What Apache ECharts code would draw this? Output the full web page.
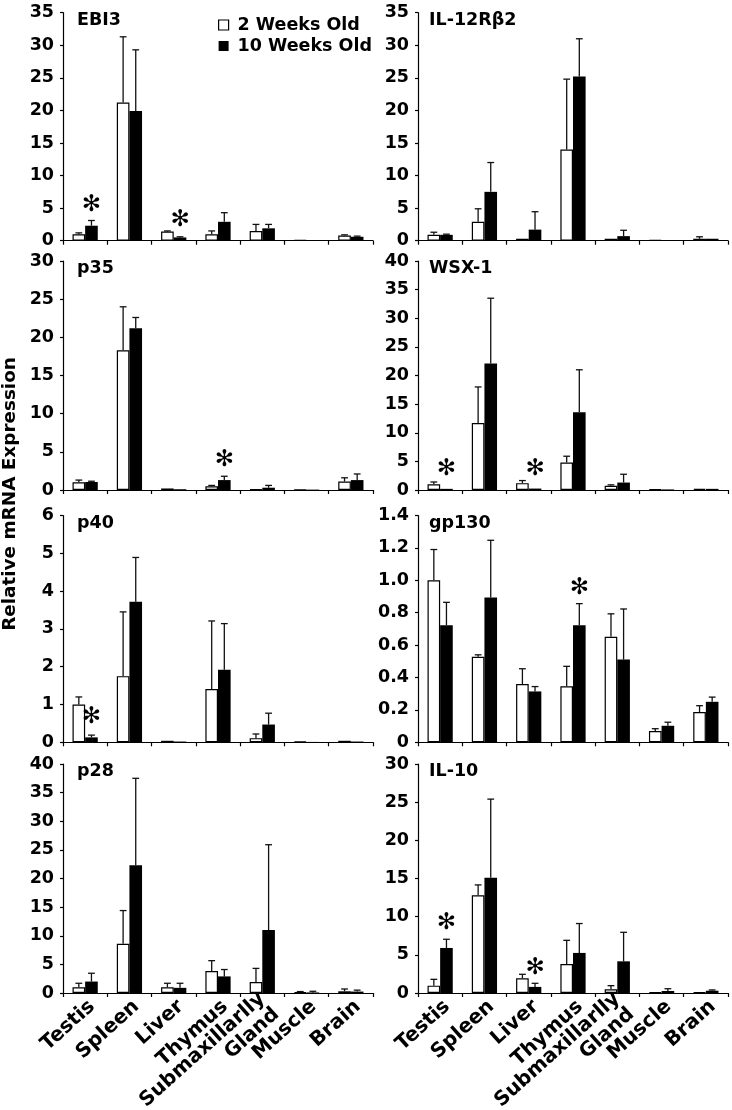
<!DOCTYPE html>
<html><head><meta charset="utf-8">
<script src="https://cdn.jsdelivr.net/npm/echarts@6/dist/echarts.min.js"></script>
<style>html,body{margin:0;padding:0;background:#fff}#c{width:732px;height:1110px}</style>
</head><body><div id="c"></div>
<script>
// ---------- data ----------
var categories = ['Testis', 'Spleen', 'Liver', 'Thymus', 'Submaxillarlly\nGland', 'Muscle', 'Brain'];
var panelTitles = ['EBI3', 'IL-12R\u03b22', 'p35', 'WSX-1', 'p40', 'gp130', 'p28', 'IL-10'];
var yMax  = [35, 35, 30, 40, 6, 1.4, 40, 30];
var yStep = [5, 5, 5, 5, 1, 0.2, 5, 5];
var legendNames = ['2 Weeks Old', '10 Weeks Old'];

var ebi3_2wk      = [1.0, 21.2, 1.4, 1.0, 1.5, 0.1, 0.8];
var ebi3_2wk_err  = [0.2, 10.1, 0.1, 0.5, 1.0, 0, 0.1];
var ebi3_10wk     = [2.3, 19.9, 0.5, 2.9, 1.9, 0.1, 0.6];
var ebi3_10wk_err = [0.8, 9.4, 0.1, 1.4, 0.6, 0, 0.1];

var il12_2wk      = [0.9, 2.9, 0.3, 14.0, 0.3, 0.1, 0.3];
var il12_2wk_err  = [0.4, 2.0, 0, 10.8, 0, 0, 0.3];
var il12_10wk     = [0.9, 7.5, 1.7, 25.2, 0.7, 0.1, 0.3];
var il12_10wk_err = [0.1, 4.5, 2.75, 5.8, 0.9, 0, 0];

var p35_2wk       = [1.0, 18.3, 0.2, 0.5, 0.1, 0.05, 1.1];
var p35_2wk_err   = [0.3, 5.7, 0, 0.1, 0, 0, 0.5];
var p35_10wk      = [1.05, 21.2, 0.1, 1.3, 0.3, 0.05, 1.3];
var p35_10wk_err  = [0.1, 1.4, 0, 0.5, 0.3, 0, 0.8];

var wsx_2wk       = [1.0, 11.7, 1.2, 4.8, 0.75, 0.1, 0.2];
var wsx_2wk_err   = [0.4, 6.3, 0.45, 1.1, 0.15, 0, 0];
var wsx_10wk      = [0.2, 22.1, 0.25, 13.6, 1.3, 0.1, 0.2];
var wsx_10wk_err  = [0, 11.4, 0, 7.4, 1.45, 0, 0];

var p40_2wk       = [1.0, 1.75, 0.04, 1.41, 0.11, 0.02, 0.04];
var p40_2wk_err   = [0.2, 1.7, 0, 1.8, 0.11, 0, 0];
var p40_10wk      = [0.13, 3.72, 0.02, 1.92, 0.47, 0.01, 0.02];
var p40_10wk_err  = [0.06, 1.17, 0, 1.22, 0.3, 0, 0];

var gp130_2wk       = [1.0, 0.528, 0.36, 0.346, 0.652, 0.069, 0.187];
var gp130_2wk_err   = [0.19, 0.012, 0.094, 0.123, 0.141, 0.015, 0.039];
var gp130_10wk      = [0.723, 0.894, 0.314, 0.723, 0.511, 0.102, 0.25];
var gp130_10wk_err  = [0.141, 0.353, 0.03, 0.133, 0.312, 0.022, 0.029];

var p28_2wk       = [1.0, 8.6, 1.0, 3.85, 1.9, 0.15, 0.3];
var p28_2wk_err   = [0.7, 5.8, 0.7, 1.8, 2.4, 0.1, 0.4];
var p28_10wk      = [2.0, 22.3, 0.9, 2.9, 11.0, 0.1, 0.25];
var p28_10wk_err  = [1.45, 15.2, 0.8, 1.2, 14.9, 0.2, 0.25];

var il10_2wk      = [0.96, 12.8, 1.92, 3.8, 0.48, 0.09, 0.09];
var il10_2wk_err  = [0.83, 1.36, 0.53, 3.1, 0.48, 0, 0];
var il10_10wk     = [5.9, 15.1, 0.8, 5.25, 4.15, 0.26, 0.3];
var il10_10wk_err = [1.14, 10.3, 0.47, 3.85, 3.8, 0.3, 0.1];

// significance asterisks: [category index, y position in data units] above 10-week bar
var ebi3_sig  = [[0, 5.4], [2, 3.2]];
var il12_sig  = [];
var p35_sig   = [[3, 3.9]];
var wsx_sig   = [[0, 3.7], [2, 3.7]];
var p40_sig   = [[0, 0.68]];
var gp130_sig = [[3, 0.95]];
var p28_sig   = [];
var il10_sig  = [[0, 9.2], [2, 3.3]];

var young    = [ebi3_2wk, il12_2wk, p35_2wk, wsx_2wk, p40_2wk, gp130_2wk, p28_2wk, il10_2wk];
var youngErr = [ebi3_2wk_err, il12_2wk_err, p35_2wk_err, wsx_2wk_err, p40_2wk_err, gp130_2wk_err, p28_2wk_err, il10_2wk_err];
var adult    = [ebi3_10wk, il12_10wk, p35_10wk, wsx_10wk, p40_10wk, gp130_10wk, p28_10wk, il10_10wk];
var adultErr = [ebi3_10wk_err, il12_10wk_err, p35_10wk_err, wsx_10wk_err, p40_10wk_err, gp130_10wk_err, p28_10wk_err, il10_10wk_err];
var sigs     = [ebi3_sig, il12_sig, p35_sig, wsx_sig, p40_sig, gp130_sig, p28_sig, il10_sig];

// ---------- layout ----------
var FONT = 'DejaVu Sans';
var GAP = 0.43;
var gridTop = [12.7, 261, 515.5, 764];
var gridBot = [240.7, 490, 742.3, 993];
var colLeft = [63, 418];
var gridW = 310;

function errRender(sign) {
  return function (params, api) {
    var c = api.value(0), v = api.value(1), e = api.value(2);
    if (!(e > 0)) return null;
    var base = api.coord([c, v]);
    var top = api.coord([c, v + e]);
    var band = api.size([1, 0])[0];
    var bw = band * (1 - GAP) / 2;
    var x = base[0] + sign * bw / 2;
    var cap = 3.4;
    var st = { stroke: '#111', lineWidth: 1.3 };
    return { type: 'group', children: [
      { type: 'line', shape: { x1: x, y1: base[1], x2: x, y2: top[1] }, style: st },
      { type: 'line', shape: { x1: x - cap, y1: top[1], x2: x + cap, y2: top[1] }, style: st }
    ]};
  };
}
function sigRender(params, api) {
  var p = api.coord([api.value(0), api.value(1)]);
  var band = api.size([1, 0])[0];
  var x = p[0] + band * (1 - GAP) / 4;
  return { type: 'text', x: x, y: p[1], style: { text: '\u273B', fontSize: 23, fontFamily: FONT, fill: '#000', align: 'center', verticalAlign: 'middle' } };
}

var grids = [], xAxes = [], yAxes = [], series = [], graphics = [];
for (var i = 0; i < 8; i++) {
  var row = Math.floor(i / 2), col = i % 2;
  grids.push({ left: colLeft[col], top: gridTop[row], width: gridW, height: gridBot[row] - gridTop[row], containLabel: false, outerBoundsMode: 'none' });
  xAxes.push({
    type: 'category', gridIndex: i, data: categories,
    axisLine: { show: true, lineStyle: { color: '#000', width: 1.2 } },
    axisTick: { show: true, length: 4, lineStyle: { color: '#000', width: 1.2 } },
    axisLabel: { show: row === 3, interval: 0, rotate: 42, margin: 3,
      align: 'right', verticalAlign: 'middle', lineHeight: 21,
      formatter: function (v) { return '\n' + v; },
      fontSize: 20, fontWeight: 'bold', fontFamily: FONT, color: '#000' },
    splitLine: { show: false }
  });
  (function (step) {
    yAxes.push({
      type: 'value', gridIndex: i, min: 0, max: yMax[i], interval: step,
      axisLine: { show: true, lineStyle: { color: '#000', width: 1.2 } },
      axisTick: { show: true, length: 3, lineStyle: { color: '#000', width: 1.2 } },
      axisLabel: { margin: 9, fontSize: 17.5, fontWeight: 'bold', fontFamily: FONT, color: '#000',
        formatter: function (v) { return v === 0 ? '0' : (step < 1 ? v.toFixed(1) : String(v)); } },
      splitLine: { show: false }
    });
  })(yStep[i]);
  series.push({ type: 'bar', name: legendNames[0], xAxisIndex: i, yAxisIndex: i, data: young[i],
    barGap: '0%', barCategoryGap: (GAP * 100) + '%',
    itemStyle: { color: '#fff', borderColor: '#000', borderWidth: 1.2 }, z: 2 });
  series.push({ type: 'bar', name: legendNames[1], xAxisIndex: i, yAxisIndex: i, data: adult[i],
    barGap: '0%', barCategoryGap: (GAP * 100) + '%',
    itemStyle: { color: '#000' }, z: 2 });
  series.push({ type: 'custom', xAxisIndex: i, yAxisIndex: i, renderItem: errRender(-1), clip: false, z: 3,
    encode: { x: 0, y: 1 }, silent: true,
    data: young[i].map(function (v, k) { return [k, v, youngErr[i][k]]; }) });
  series.push({ type: 'custom', xAxisIndex: i, yAxisIndex: i, renderItem: errRender(1), clip: false, z: 3,
    encode: { x: 0, y: 1 }, silent: true,
    data: adult[i].map(function (v, k) { return [k, v, adultErr[i][k]]; }) });
  if (sigs[i].length) {
    series.push({ type: 'custom', xAxisIndex: i, yAxisIndex: i, renderItem: sigRender, clip: false, z: 4,
      encode: { x: 0, y: 1 }, silent: true, data: sigs[i] });
  }
  graphics.push({ type: 'text', x: colLeft[col] + (col ? 11 : 14), y: gridTop[row] + 7.5,
    style: { text: panelTitles[i], fontSize: 17.5, fontWeight: 'bold', fontFamily: FONT, fill: '#000', verticalAlign: 'middle' } });
}
graphics.push({ type: 'text', x: 10, y: 494, rotation: Math.PI / 2,
  style: { text: 'Relative mRNA Expression', fontSize: 18.4, fontWeight: 'bold', fontFamily: FONT, fill: '#000', align: 'center', verticalAlign: 'middle' } });

var chart = echarts.init(document.getElementById('c'), null, { renderer: 'canvas' });
chart.setOption({
  backgroundColor: '#fff',
  animation: false,
  grid: grids, xAxis: xAxes, yAxis: yAxes, series: series,
  legend: {
    orient: 'vertical', left: 213, top: 11, itemWidth: 10, itemHeight: 10, itemGap: 3, selectedMode: false,
    data: [
      { name: legendNames[0], icon: 'rect', itemStyle: { color: '#fff', borderColor: '#000', borderWidth: 1.2 } },
      { name: legendNames[1], icon: 'rect', itemStyle: { color: '#000' } }
    ],
    textStyle: { fontSize: 17.5, lineHeight: 18, fontWeight: 'bold', fontFamily: FONT, color: '#000', padding: [0, 0, 0, 4] }
  },
  graphic: { elements: graphics }
});
</script></body></html>
